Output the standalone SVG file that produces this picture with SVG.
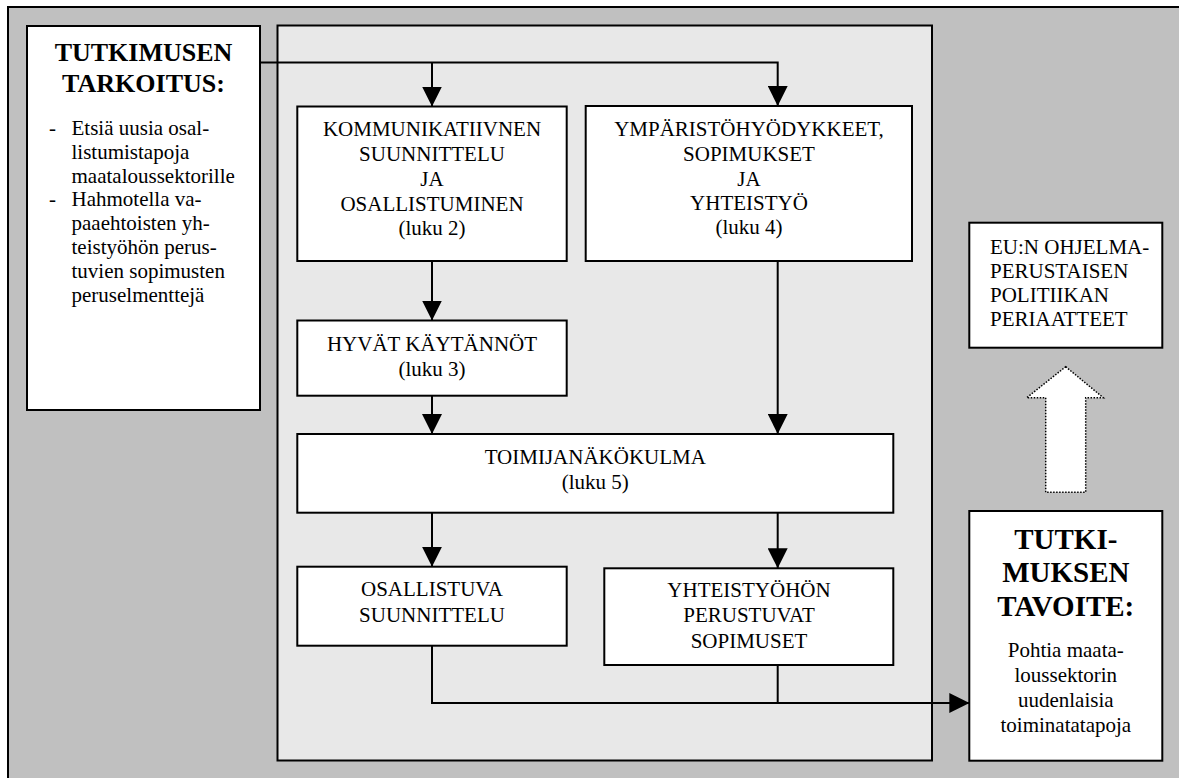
<svg xmlns="http://www.w3.org/2000/svg" width="1179" height="778" viewBox="0 0 1179 778">
<style>
.box{fill:#fff;stroke:#000;stroke-width:2}
text{font-family:'Liberation Serif','Times New Roman',serif;font-size:21px;fill:#000}
.c{text-anchor:middle}
.h{font-weight:bold;font-size:26px}
.h2{font-weight:bold;font-size:29px}
.conn{fill:none;stroke:#000;stroke-width:2}
</style>
<defs>
<marker id="ah" viewBox="0 0 20 20" refX="20" refY="10" markerWidth="20" markerHeight="20" markerUnits="userSpaceOnUse" orient="auto">
<path d="M0,0 L20,10 L0,20 z" fill="#000"/>
</marker>
</defs>
<rect id="frame" x="8" y="7" width="1180" height="780" fill="#c0c0c0" stroke="#000" stroke-width="2"/>
<rect id="panel" x="277.5" y="25.5" width="654.5" height="735" fill="#e8e8e8" stroke="#000" stroke-width="2"/>

<g id="tarkoitus">
<rect class="box" x="27" y="26" width="233" height="384"/>
<text class="c h" x="143.5" y="61">TUTKIMUSEN</text>
<text class="c h" x="143.5" y="92">TARKOITUS:</text>
<text x="49" y="135">-</text>
<text x="71.5" y="135">Etsiä uusia osal-</text>
<text x="71.5" y="158.8">listumistapoja</text>
<text x="71.5" y="182.6">maataloussektorille</text>
<text x="49" y="206.4">-</text>
<text x="71.5" y="206.4">Hahmotella va-</text>
<text x="71.5" y="230.2">paaehtoisten yh-</text>
<text x="71.5" y="254">teistyöhön perus-</text>
<text x="71.5" y="277.8">tuvien sopimusten</text>
<text x="71.5" y="301.6">peruselmenttejä</text>
</g>

<g id="kommunikatiivinen">
<rect class="box" x="297.3" y="106.5" width="269.4" height="154.5"/>
<text class="c" x="432" y="136">KOMMUNIKATIIVNEN</text>
<text class="c" x="432" y="161">SUUNNITTELU</text>
<text class="c" x="432" y="185.5">JA</text>
<text class="c" x="432" y="210.5">OSALLISTUMINEN</text>
<text class="c" x="432" y="235">(luku 2)</text>
</g>

<g id="ymparisto">
<rect class="box" x="585.7" y="106" width="326.3" height="155"/>
<text class="c" x="749" y="135.7">YMPÄRISTÖHYÖDYKKEET,</text>
<text class="c" x="749" y="160.7">SOPIMUKSET</text>
<text class="c" x="749" y="185.5">JA</text>
<text class="c" x="749" y="209.5">YHTEISTYÖ</text>
<text class="c" x="749" y="234">(luku 4)</text>
</g>

<g id="hyvat">
<rect class="box" x="297.3" y="320.5" width="269.4" height="75.2"/>
<text class="c" x="432" y="351">HYVÄT KÄYTÄNNÖT</text>
<text class="c" x="432" y="376">(luku 3)</text>
</g>

<g id="toimija">
<rect class="box" x="297.3" y="434" width="596" height="78.7"/>
<text class="c" x="595.3" y="464">TOIMIJANÄKÖKULMA</text>
<text class="c" x="595.3" y="489">(luku 5)</text>
</g>

<g id="osallistuva">
<rect class="box" x="297.3" y="566.7" width="269.4" height="79"/>
<text class="c" x="432" y="596">OSALLISTUVA</text>
<text class="c" x="432" y="621.7">SUUNNITTELU</text>
</g>

<g id="sopimukset">
<rect class="box" x="604.3" y="568.3" width="289" height="96.7"/>
<text class="c" x="749" y="597.3">YHTEISTYÖHÖN</text>
<text class="c" x="749" y="622.3">PERUSTUVAT</text>
<text class="c" x="749" y="647.7">SOPIMUSET</text>
</g>

<g id="eu">
<rect class="box" x="969.3" y="222.7" width="193" height="125"/>
<text x="990" y="254.3">EU:N OHJELMA-</text>
<text x="990" y="278">PERUSTAISEN</text>
<text x="990" y="301.7">POLITIIKAN</text>
<text x="990" y="325.7">PERIAATTEET</text>
</g>

<g id="tavoite">
<rect class="box" x="969.3" y="511" width="193" height="249.7"/>
<text class="c h2" x="1065.8" y="549">TUTKI-</text>
<text class="c h2" x="1065.8" y="582">MUKSEN</text>
<text class="c h2" x="1065.8" y="615.7">TAVOITE:</text>
<text class="c" x="1065.8" y="657.3">Pohtia maata-</text>
<text class="c" x="1065.8" y="682.3">loussektorin</text>
<text class="c" x="1065.8" y="706.7">uudenlaisia</text>
<text class="c" x="1065.8" y="731.7">toiminatatapoja</text>
</g>

<g id="connectors">
<path class="conn" d="M260,62.5 H777.7 V106" marker-end="url(#ah)"/>
<path class="conn" d="M432,62.5 V106.5" marker-end="url(#ah)"/>
<path class="conn" d="M432,261 V320.5" marker-end="url(#ah)"/>
<path class="conn" d="M432,395.7 V434" marker-end="url(#ah)"/>
<path class="conn" d="M777.7,261 V434" marker-end="url(#ah)"/>
<path class="conn" d="M432,512.7 V566.7" marker-end="url(#ah)"/>
<path class="conn" d="M777.7,512.7 V568.3" marker-end="url(#ah)"/>
<path class="conn" d="M432,645.7 V703 H969.3" marker-end="url(#ah)"/>
<path class="conn" d="M777.7,665 V703"/>
<polygon id="dotted-arrow" points="1065.7,366.7 1103.3,397.7 1085.7,397.7 1085.7,492.3 1045.7,492.3 1045.7,397.7 1026.7,397.7" fill="#fff" stroke="#000" stroke-width="1.5" stroke-dasharray="1.5,1.5"/>
</g>
</svg>
